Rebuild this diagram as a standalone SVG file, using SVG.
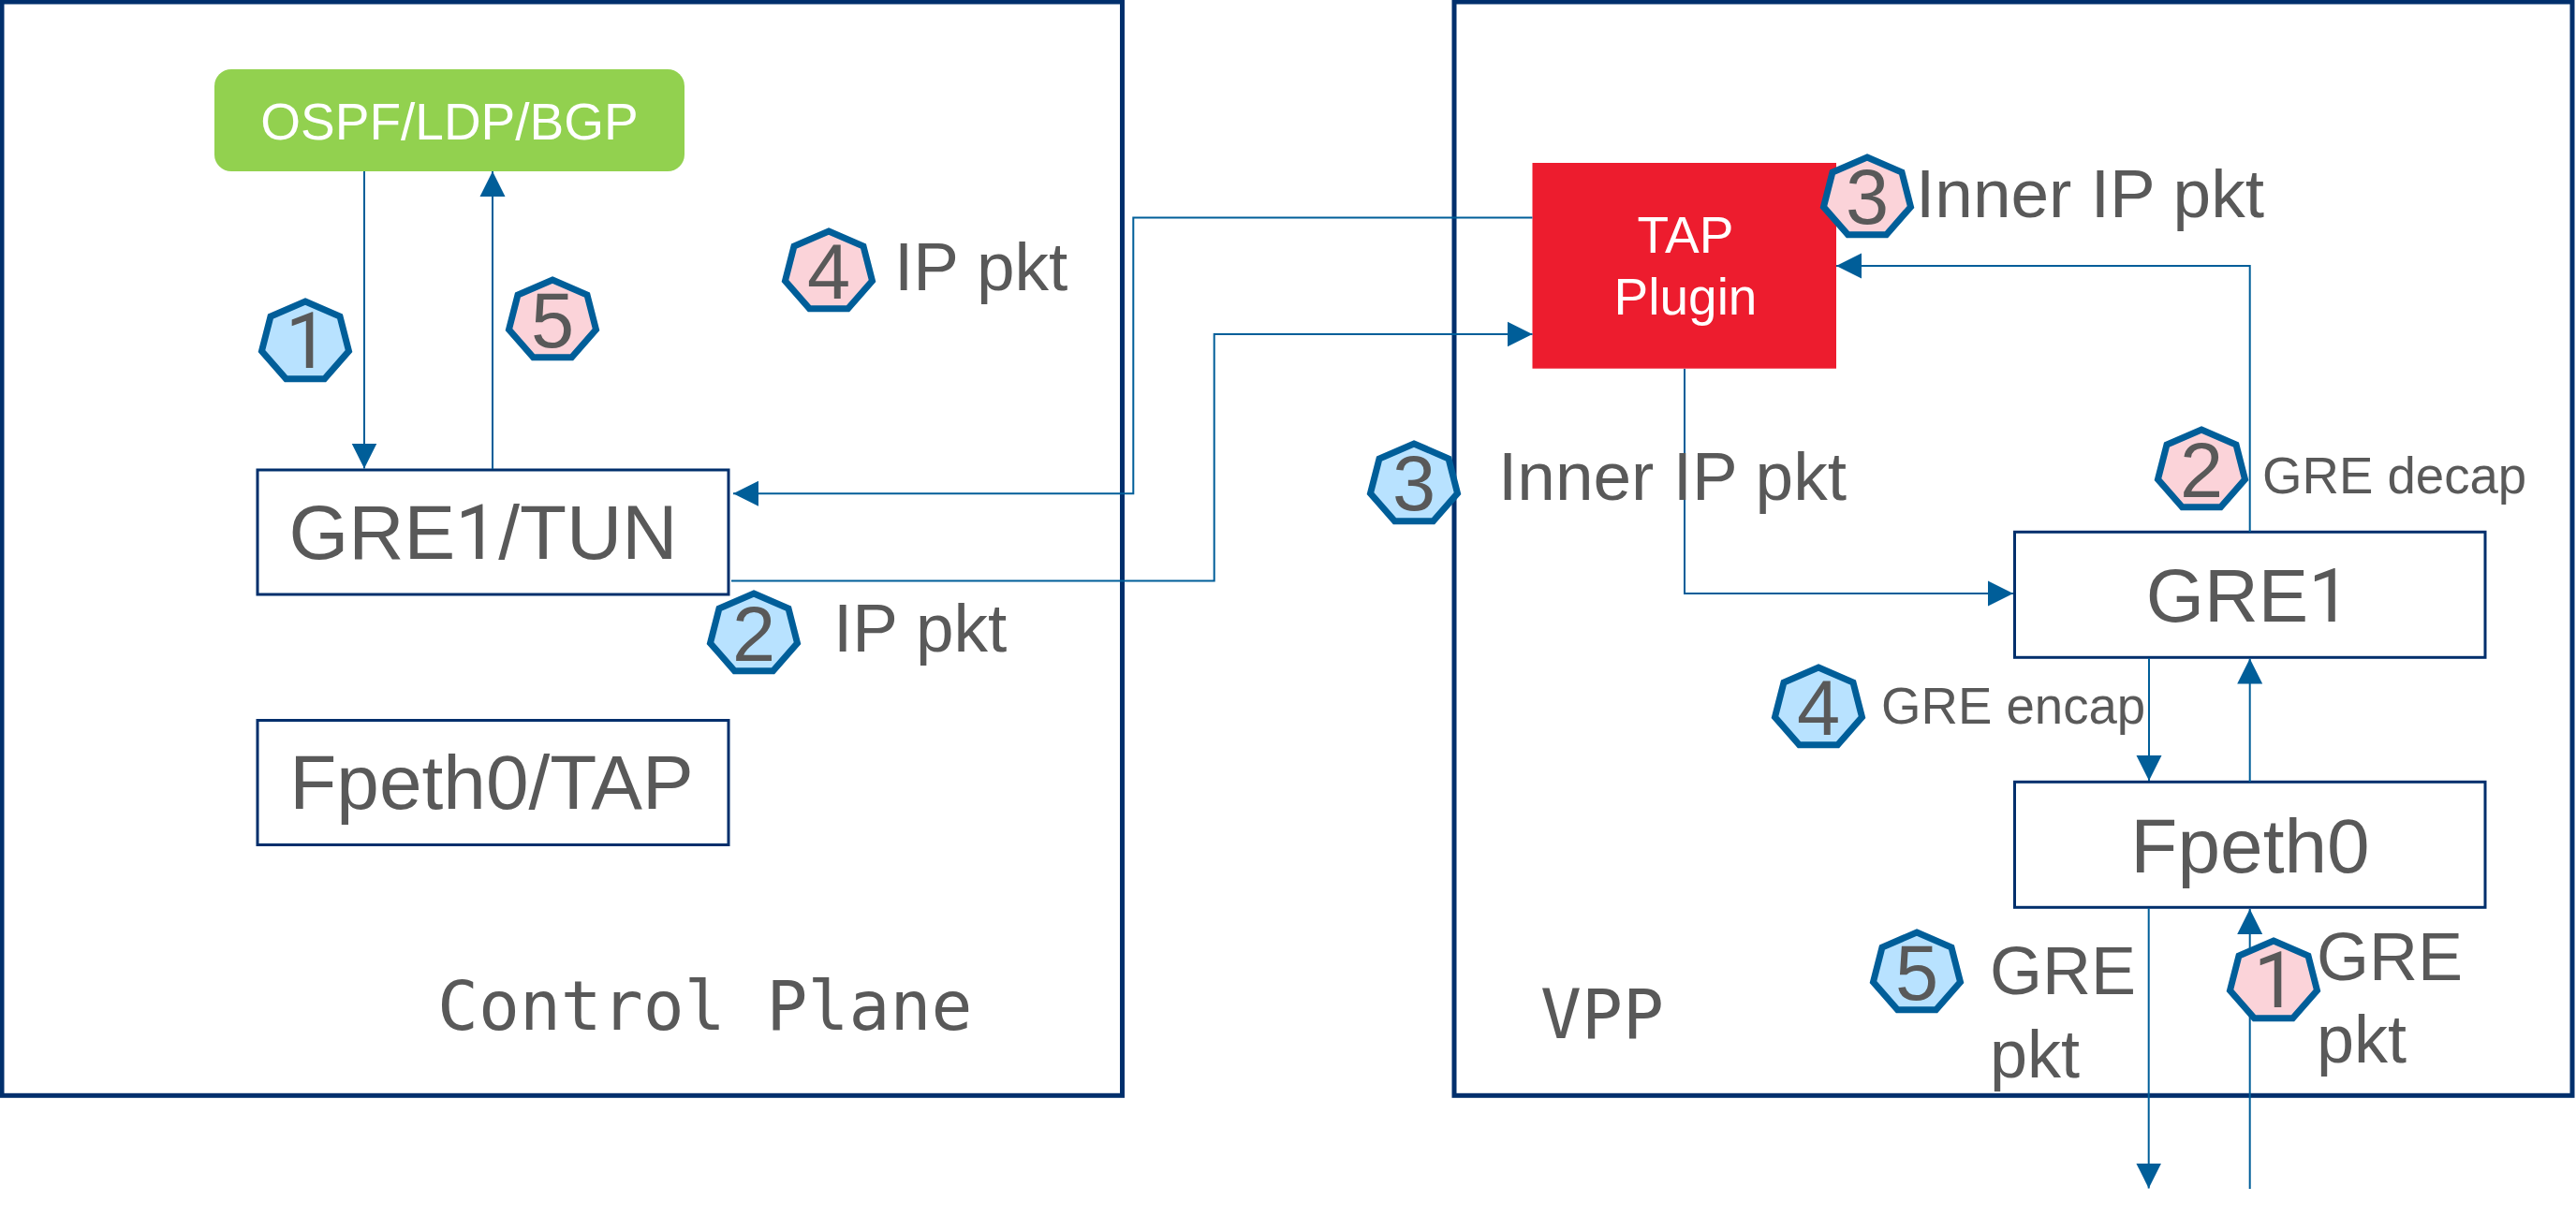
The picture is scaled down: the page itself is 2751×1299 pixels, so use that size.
<svg xmlns="http://www.w3.org/2000/svg" width="2751" height="1299" viewBox="0 0 2751 1299">
<style>
text{font-family:"Liberation Sans",Arial,sans-serif;fill:#595959}
.r{font-family:Roboto,"Liberation Sans",sans-serif}
.container{fill:#fff;stroke:#002f6c;stroke-width:5}
.box{fill:#fff;stroke:#002f6c;stroke-width:3}
.conn{fill:none;stroke:#005e99;stroke-width:2;marker-end:url(#arrow)}
.hept{stroke:#005e99;stroke-width:7;stroke-linejoin:miter}
.blue{fill:#b8e2ff}
.pink{fill:#fbd3d9}
.num{font-size:83px;text-anchor:middle}
.big{font-size:82px}
.mid{font-size:73px}
.lab{font-size:73px}
.gre{font-size:72px}
.small{font-size:54.6px}
.mono{font-family:"DejaVu Sans Mono","Liberation Mono",monospace;font-size:73px}
.white{fill:#fff;font-size:55px;text-anchor:middle}
.c{text-anchor:middle}
</style>
<defs>
<marker id="arrow" markerUnits="userSpaceOnUse" markerWidth="28" markerHeight="28" refX="27" refY="14" orient="auto" viewBox="0 0 28 28"><path d="M0 0.5L27 14L0 27.5Z" fill="#005e99"/></marker>
<polygon id="hp" points="0,0 37,16 46.5,53 20.5,82.7 -20.5,82.7 -46.5,53 -37,16"/>
</defs>
<rect width="2751" height="1299" fill="#fff"/>
<g id="control-plane"><rect class="container" x="2" y="2" width="1196.5" height="1168.3"/><text class="mono" x="467" y="1100">Control Plane</text></g>
<g id="vpp"><rect class="container" x="1553" y="2" width="1194" height="1168.3"/><text class="mono" x="1645" y="1109">VPP</text></g>
<g id="ospf"><rect x="229" y="74" width="502" height="109" rx="18" fill="#92d14f"/><text class="white" x="480" y="149">OSPF/LDP/BGP</text></g>
<g id="gre1-tun"><rect class="box" x="275" y="502" width="503" height="133"/><text class="big c" x="516" y="597">GRE<tspan class="r">1</tspan>/TUN</text></g>
<g id="fpeth0-tap"><rect class="box" x="275" y="769.5" width="503" height="133"/><text class="big c" x="525" y="864">Fpeth0/TAP</text></g>
<g id="tap-plugin"><rect x="1636.5" y="174" width="324.5" height="219.7" fill="#ed1c2e"/><text class="white" x="1800" y="270">TAP</text><text class="white" x="1800" y="335.5">Plugin</text></g>
<g id="gre1"><rect class="box" x="2151.5" y="568.3" width="502.5" height="134"/><text class="c" style="font-size:80px" x="2401" y="664">GRE<tspan class="r">1</tspan></text></g>
<g id="fpeth0"><rect class="box" x="2151.5" y="835.3" width="502.5" height="134"/><text class="big c" x="2403" y="932">Fpeth0</text></g>
<g id="connectors">
<path class="conn" d="M389 183V500.5"/>
<path class="conn" d="M526 501V183"/>
<path class="conn" d="M1636.5 232.5H1210.3V527.3H783"/>
<path class="conn" d="M781 620.5H1296.7V357H1636.5"/>
<path class="conn" d="M1799 394V634H2150"/>
<path class="conn" d="M2402.7 568V284H1961"/>
<path class="conn" d="M2295 703V834"/>
<path class="conn" d="M2402.7 835V703.5"/>
<path class="conn" d="M2294.7 970V1269.5"/>
<path class="conn" d="M2402.7 1270V971"/>
</g>
<g id="badge-cp-1"><use href="#hp" x="326" y="322" class="hept blue"/><text class="num r" x="328" y="393">1</text></g>
<g id="badge-cp-5"><use href="#hp" x="590" y="299" class="hept pink"/><text class="num" x="590" y="371">5</text></g>
<g id="badge-cp-4"><use href="#hp" x="885" y="247" class="hept pink"/><text class="num" x="885" y="319">4</text><text class="mid" x="955" y="310">IP pkt</text></g>
<g id="badge-cp-2"><use href="#hp" x="805" y="634" class="hept blue"/><text class="num" x="805" y="706">2</text><text class="mid" x="890" y="696">IP pkt</text></g>
<g id="badge-vpp-3b"><use href="#hp" x="1510" y="474" class="hept blue"/><text class="num" x="1510" y="545">3</text><text class="lab" x="1600" y="534">Inner IP pkt</text></g>
<g id="badge-vpp-3p"><use href="#hp" x="1994" y="168" class="hept pink"/><text class="num" x="1994" y="239">3</text><text class="lab" x="2046" y="232">Inner IP pkt</text></g>
<g id="badge-vpp-2"><use href="#hp" x="2351" y="459" class="hept pink"/><text class="num" x="2351" y="531">2</text><text class="small" x="2416" y="527">GRE decap</text></g>
<g id="badge-vpp-4"><use href="#hp" x="1942" y="713" class="hept blue"/><text class="num" x="1942" y="785">4</text><text class="small" x="2009" y="773">GRE encap</text></g>
<g id="badge-vpp-5"><use href="#hp" x="2047" y="996" class="hept blue"/><text class="num" x="2047" y="1068">5</text><text class="gre" x="2125" y="1062">GRE</text><text class="gre" x="2125" y="1151">pkt</text></g>
<g id="badge-vpp-1"><use href="#hp" x="2428" y="1005" class="hept pink"/><text class="num r" x="2430" y="1076">1</text><text class="gre" x="2474" y="1047">GRE</text><text class="gre" x="2474" y="1135">pkt</text></g>
</svg>
